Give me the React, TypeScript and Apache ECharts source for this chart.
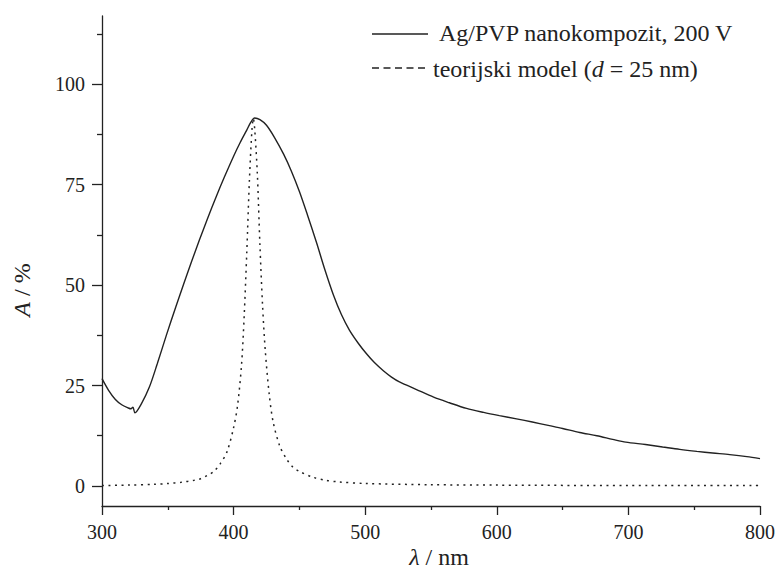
import React, { useEffect, useRef } from "react";
import * as echarts from "echarts";

const lambdaSolid = [300, 305, 310, 315, 320, 322, 323.5, 325, 330, 336, 342, 349, 356, 362, 368, 374, 380, 387, 393, 400, 405, 410, 413, 416, 420, 425, 431, 438, 444, 450, 456, 463, 469, 476, 482, 488, 495, 501, 507, 514, 520, 526, 539, 552, 564, 577, 590, 602, 615, 627, 640, 650, 663, 676, 688, 698, 713, 726, 739, 752, 764, 777, 790, 800];
const solidValues = [26.7, 23.8, 21.6, 20.2, 19.4, 19.2, 19.6, 18.2, 20.5, 24.6, 30.4, 37.6, 44.5, 50.2, 55.8, 61.2, 66.4, 72.2, 76.9, 82.1, 85.5, 88.6, 90.5, 91.6, 91.2, 89.8, 86.8, 82.6, 78.3, 73.3, 67.6, 60.6, 54.2, 47.4, 42.6, 38.8, 35.4, 32.9, 30.7, 28.6, 27.1, 25.9, 24, 22.1, 20.7, 19.3, 18.3, 17.5, 16.7, 15.9, 15.0, 14.3, 13.3, 12.5, 11.6, 10.9, 10.3, 9.7, 9.1, 8.6, 8.2, 7.8, 7.3, 6.8];

const lambdaModel = [300, 320, 340, 350, 360, 370, 375, 380, 385, 390, 395, 400, 403, 406, 408, 410, 412, 414, 415, 416, 418, 420, 422, 424, 427, 430, 435, 440, 445, 450, 460, 470, 480, 500, 550, 600, 700, 800];
const modelValues = [0.1, 0.2, 0.4, 0.6, 0.9, 1.4, 1.8, 2.6, 3.6, 5.6, 8.5, 14.5, 20, 30, 42, 58, 76, 89, 91.5, 89, 78, 60, 45, 34, 23, 16, 10, 6.8, 4.7, 3.6, 2.2, 1.4, 1.0, 0.6, 0.3, 0.2, 0.1, 0.1];

const yMajorTicks = [0, 25, 50, 75, 100];
const yMinorTicks = [12.5, 37.5, 62.5, 87.5, 112.5];

const seriesNames = ["Ag/PVP nanokompozit, 200 V", "teorijski model (d = 25 nm)"];

const FONT = "'Liberation Serif', 'Times New Roman', 'DejaVu Serif', serif";
const INK = "#222";

export default function App() {
  const ref = useRef<HTMLDivElement>(null);
  useEffect(() => {
    if (!ref.current) return;
    const chart = echarts.init(ref.current, null, { renderer: "svg" });
    const axisLine = { show: true, onZero: false, lineStyle: { color: INK, width: 1.3 } };
    const rich = {
      a: { fontFamily: FONT, fontSize: 24, fill: INK },
      i: { fontFamily: FONT, fontSize: 24, fontStyle: "italic", fill: INK },
    };
    chart.setOption({
      animation: false,
      backgroundColor: "#fff",
      textStyle: { fontFamily: FONT },
      grid: { left: 102, right: 17.5, top: 16, bottom: 68, containLabel: false },
      xAxis: {
        type: "value",
        min: 300,
        max: 800,
        interval: 100,
        axisLine,
        axisTick: { show: true, inside: false, length: 9, lineStyle: { color: INK, width: 1.3 } },
        minorTick: { show: true, splitNumber: 2, length: 4, lineStyle: { color: INK, width: 1.3 } },
        splitLine: { show: false },
        axisLabel: { color: INK, fontFamily: FONT, fontSize: 20, margin: 16 },
      },
      yAxis: [
        {
          type: "value",
          min: -5,
          max: 117,
          axisLine,
          axisTick: { show: true, inside: false, length: 10, customValues: yMajorTicks, lineStyle: { color: INK, width: 1.3 } },
          splitLine: { show: false },
          axisLabel: { color: INK, fontFamily: FONT, fontSize: 20, margin: 17, customValues: yMajorTicks },
        },
        {
          type: "value",
          position: "left",
          min: -5,
          max: 117,
          axisLine: { show: false },
          axisTick: { show: true, inside: false, length: 5, customValues: yMinorTicks, lineStyle: { color: INK, width: 1.3 } },
          splitLine: { show: false },
          axisLabel: { show: false, customValues: yMinorTicks },
        },
      ],
      series: [
        {
          name: seriesNames[0],
          type: "line",
          data: lambdaSolid.map((x, i) => [x, solidValues[i]]),
          showSymbol: false,
          smooth: 0.3,
          lineStyle: { color: INK, width: 1.4 },
          z: 3,
        },
        {
          name: seriesNames[1],
          type: "line",
          data: lambdaModel.map((x, i) => [x, modelValues[i]]),
          showSymbol: false,
          smooth: 0.3,
          lineStyle: { color: INK, width: 1.5, type: [2, 4.5] },
          z: 2,
        },
      ],
      graphic: [
        { type: "line", shape: { x1: 372, y1: 34, x2: 428, y2: 34 }, style: { stroke: INK, lineWidth: 1.4 } },
        { type: "line", shape: { x1: 372, y1: 68, x2: 428, y2: 68 }, style: { stroke: INK, lineWidth: 1.4, lineDash: [7, 4.5] } },
        {
          type: "text",
          x: 439,
          y: 33,
          style: { text: seriesNames[0], fill: INK, font: `24px ${FONT}`, verticalAlign: "middle" },
        },
        {
          type: "text",
          x: 433,
          y: 69,
          style: {
            text: "{a|teorijski model (}{i|d}{a| = 25 nm)}",
            verticalAlign: "middle",
            rich,
          },
        },
        {
          type: "text",
          x: 22,
          y: 290,
          rotation: Math.PI / 2,
          style: {
            text: "{i|A}{a| / %}",
            align: "center",
            verticalAlign: "middle",
            rich,
          },
        },
        {
          type: "text",
          x: 439,
          y: 557,
          style: {
            text: "{i|λ}{a| / nm}",
            align: "center",
            verticalAlign: "middle",
            rich,
          },
        },
      ],
    });
    return () => chart.dispose();
  }, []);
  return (
    <div
      ref={ref}
      style={{ position: "fixed", left: 0, top: 0, width: 778, height: 574, background: "#fff" }}
    />
  );
}
